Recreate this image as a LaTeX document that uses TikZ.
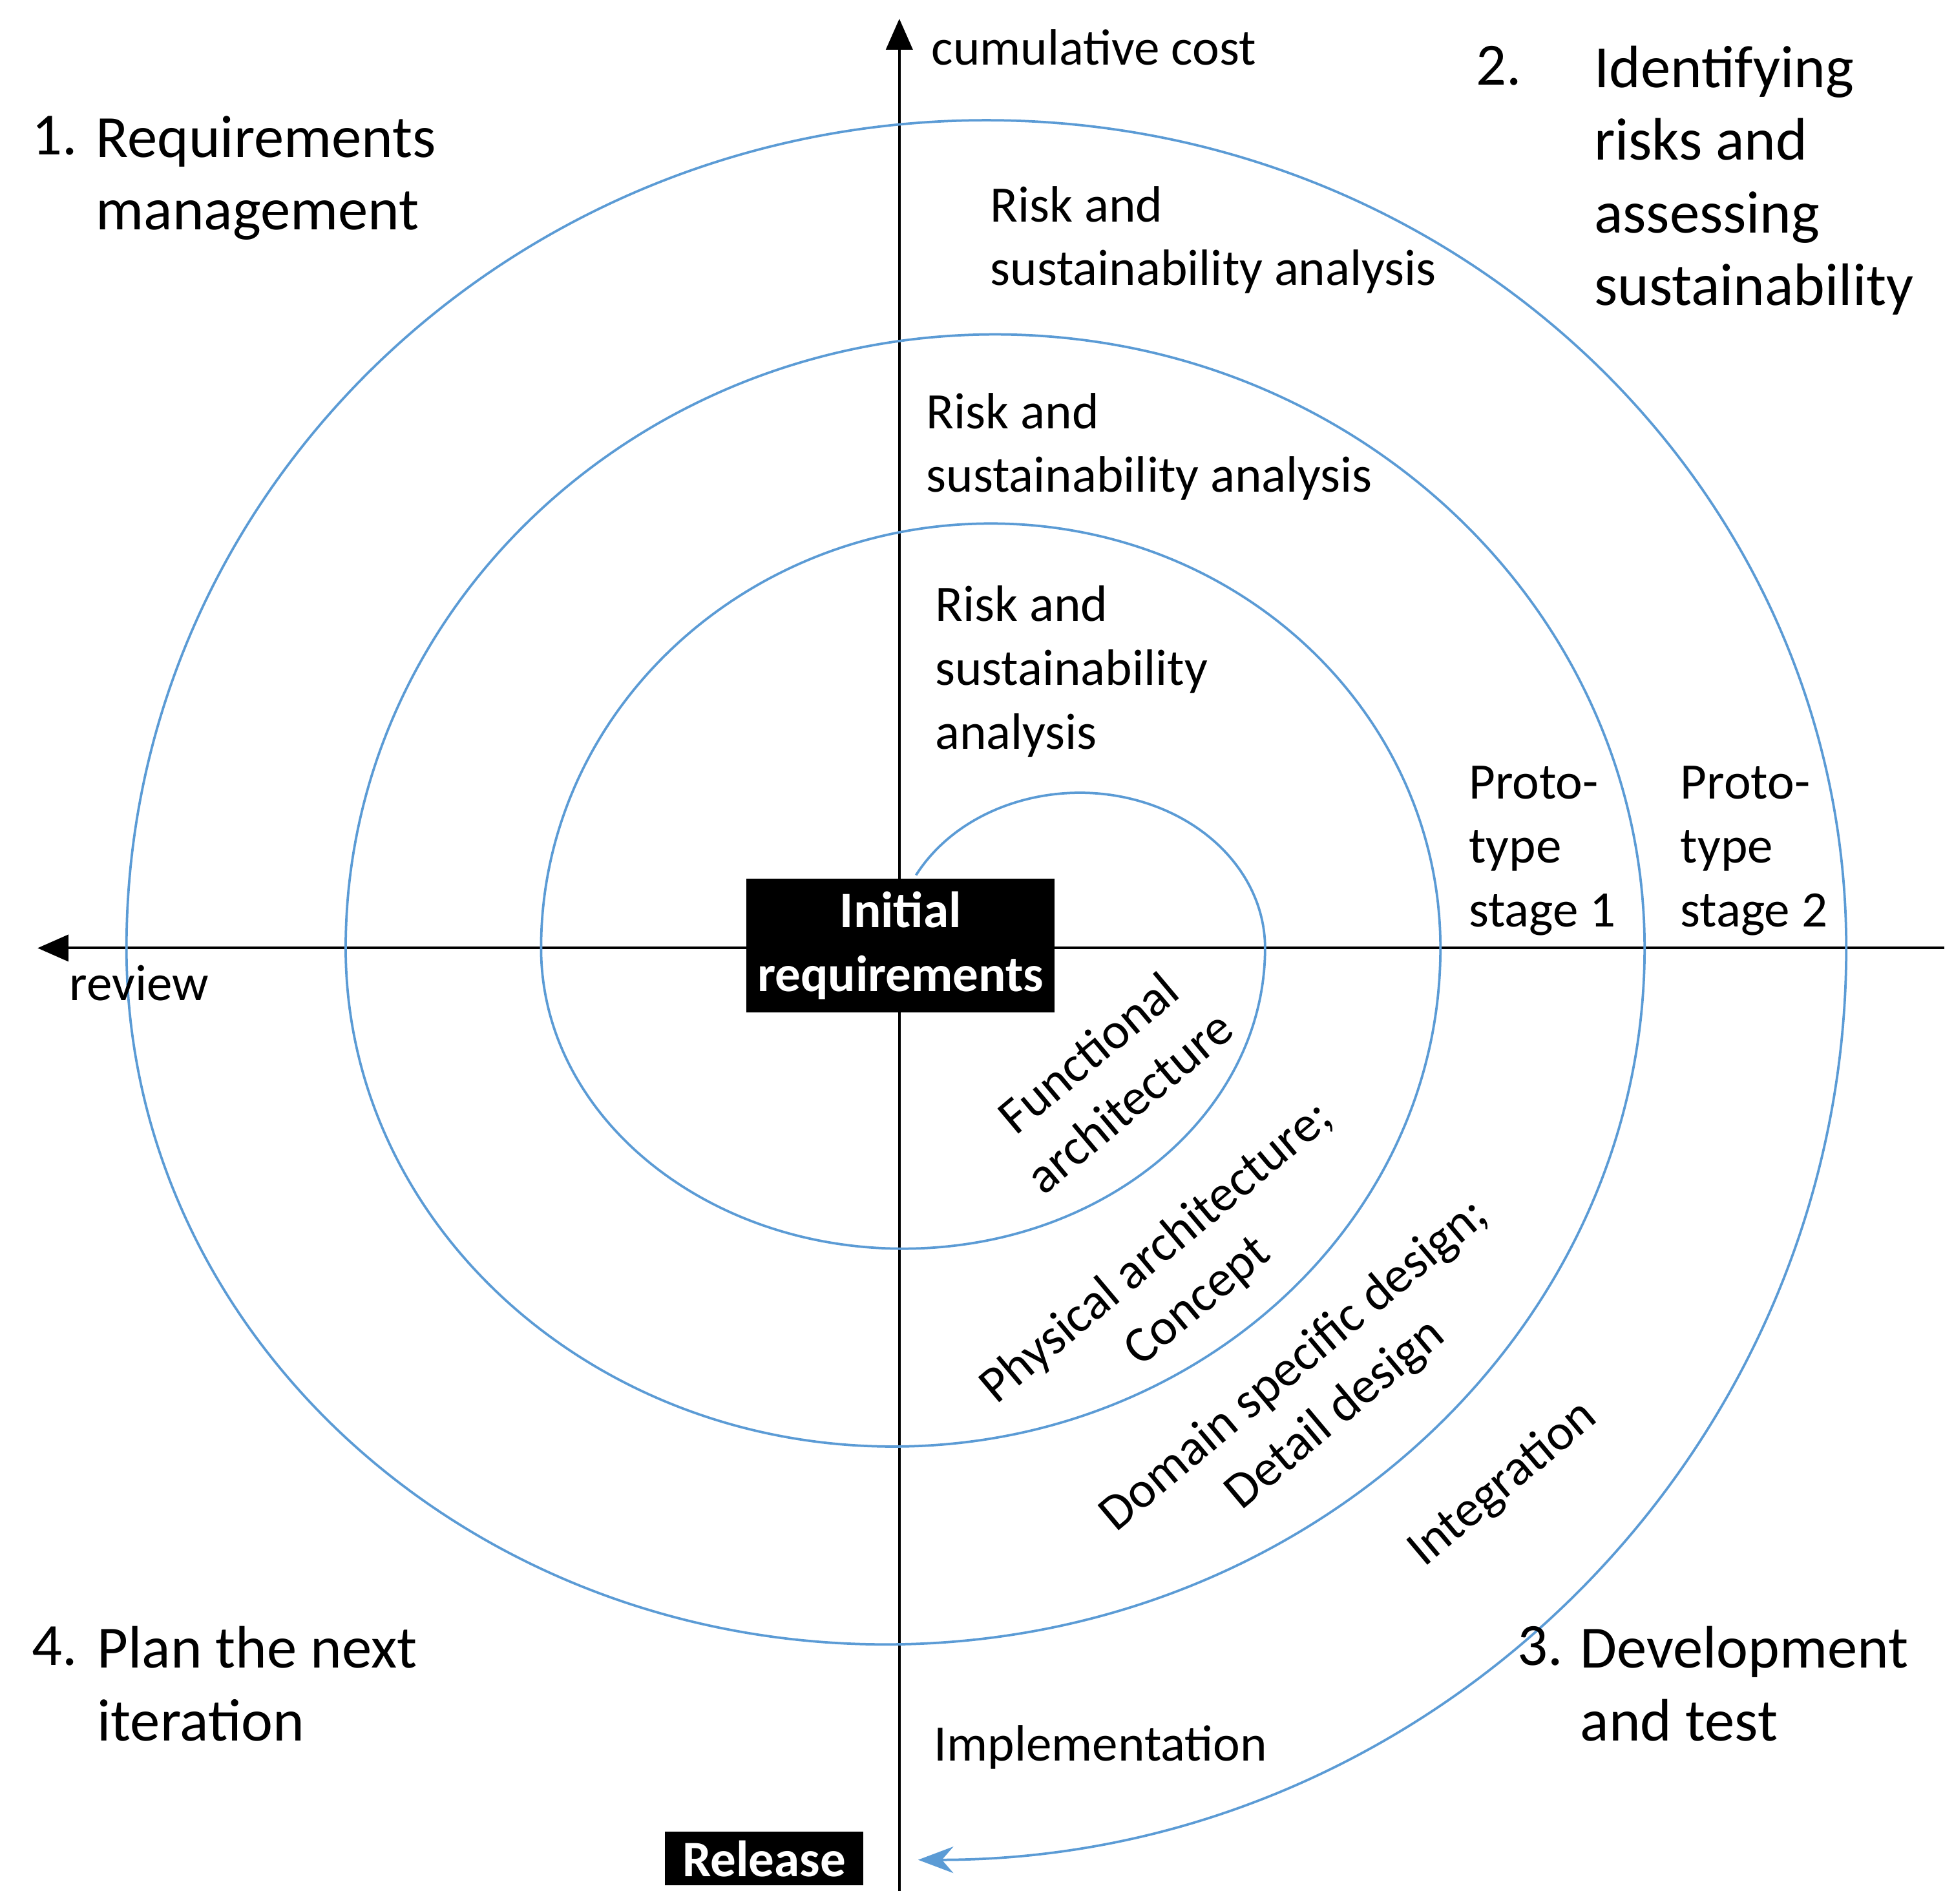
\documentclass[tikz,border=0pt]{standalone}
\usepackage{fontspec}
\setmainfont{Carlito}
\usetikzlibrary{arrows.meta}
\begin{document}
\begin{tikzpicture}[x=0.01cm,y=0.01cm,
  sm/.style={font=\fontsize{11.6pt}{14.5pt}\selectfont,inner sep=0pt,align=left},
  bg/.style={font=\fontsize{13.6pt}{16.5pt}\selectfont,inner sep=0pt,align=left},
  blk/.style={fill=black,text=white,font=\fontsize{11.6pt}{14.5pt}\selectfont\bfseries,align=center,inner ysep=3pt,inner xsep=2.5pt},
  spiral/.style={draw={rgb,255:red,91;green,155;blue,213},line width=0.55pt},
  ax/.style={draw=black,line width=0.6pt,-{Triangle[length=7pt,width=6pt]}}]
\useasboundingbox (0,0) rectangle (1560,1520);
% axes
\coordinate (vb) at (718,10); \coordinate (vt) at (718,1505);
\coordinate (hr) at (1552,763); \coordinate (hl) at (30,763);
\draw[ax] (vb) -- (vt);
\draw[ax] (hr) -- (hl);
% spiral
\draw[spiral,-{Stealth[length=8pt,width=6pt]}] (731.3,821.2) arc[start angle=152,end angle=0,x radius=148,y radius=124]
  arc[start angle=0,end angle=-180,x radius=289,y radius=240]
  arc[start angle=180,end angle=0,x radius=359,y radius=339]
  arc[start angle=0,end angle=-180,x radius=437,y radius=398]
  arc[start angle=180,end angle=0,x radius=518.5,y radius=490]
  arc[start angle=0,end angle=-180,x radius=606,y radius=556]
  arc[start angle=180,end angle=0,x radius=686.5,y radius=661]
  arc[start angle=0,end angle=-90,x radius=741,y radius=728];
% labels
\node[sm,anchor=west] (cc) at (743,1482) {cumulative cost};
\node[bg,anchor=north west] (n1) at (25,1428) {1.};
\node[bg,anchor=north west] (t1) at (76,1428) {Requirements\\management};
\node[bg,anchor=north west] (n2) at (1178,1484) {2.};
\node[bg,anchor=north west] (t2) at (1272,1484) {Identifying\\risks and\\assessing\\sustainability};
\node[sm,anchor=north west] (r1) at (790,1372) {Risk and\\sustainability analysis};
\node[sm,anchor=north west] (r2) at (739,1207) {Risk and\\sustainability analysis};
\node[sm,anchor=north west] (r3) at (746,1053) {Risk and\\sustainability\\analysis};
\node[sm,anchor=north west] (p1) at (1172,909) {Proto-\\type\\stage 1};
\node[sm,anchor=north west] (p2) at (1341,909) {Proto-\\type\\stage 2};
\node[blk] (ir) at (719,765) {Initial\\requirements};
\node[sm,anchor=west] (rv) at (55,735) {review};
\node[sm,align=center,rotate=40] (fa) at (885,660) {Functional\\architecture};
\node[sm,align=center,rotate=40] (pa) at (940,500) {Physical architecture;\\Concept};
\node[sm,align=center,rotate=40] (dd) at (1050,410) {Domain specific design;\\Detail design};
\node[sm,rotate=40] (ig) at (1200,335) {Integration};
\node[bg,anchor=north west] (n4) at (25,222) {4.};
\node[bg,anchor=north west] (t4) at (77,222) {Plan the next\\iteration};
\node[bg,anchor=north west] (n3) at (1211,222) {3.};
\node[bg,anchor=north west] (t3) at (1261,222) {Development\\and test};
\node[sm,anchor=west] (im) at (745,125) {Implementation};
\node[blk,inner xsep=4pt,inner ysep=2pt] (rl) at (610,36) {Release};
\end{tikzpicture}
\end{document}
